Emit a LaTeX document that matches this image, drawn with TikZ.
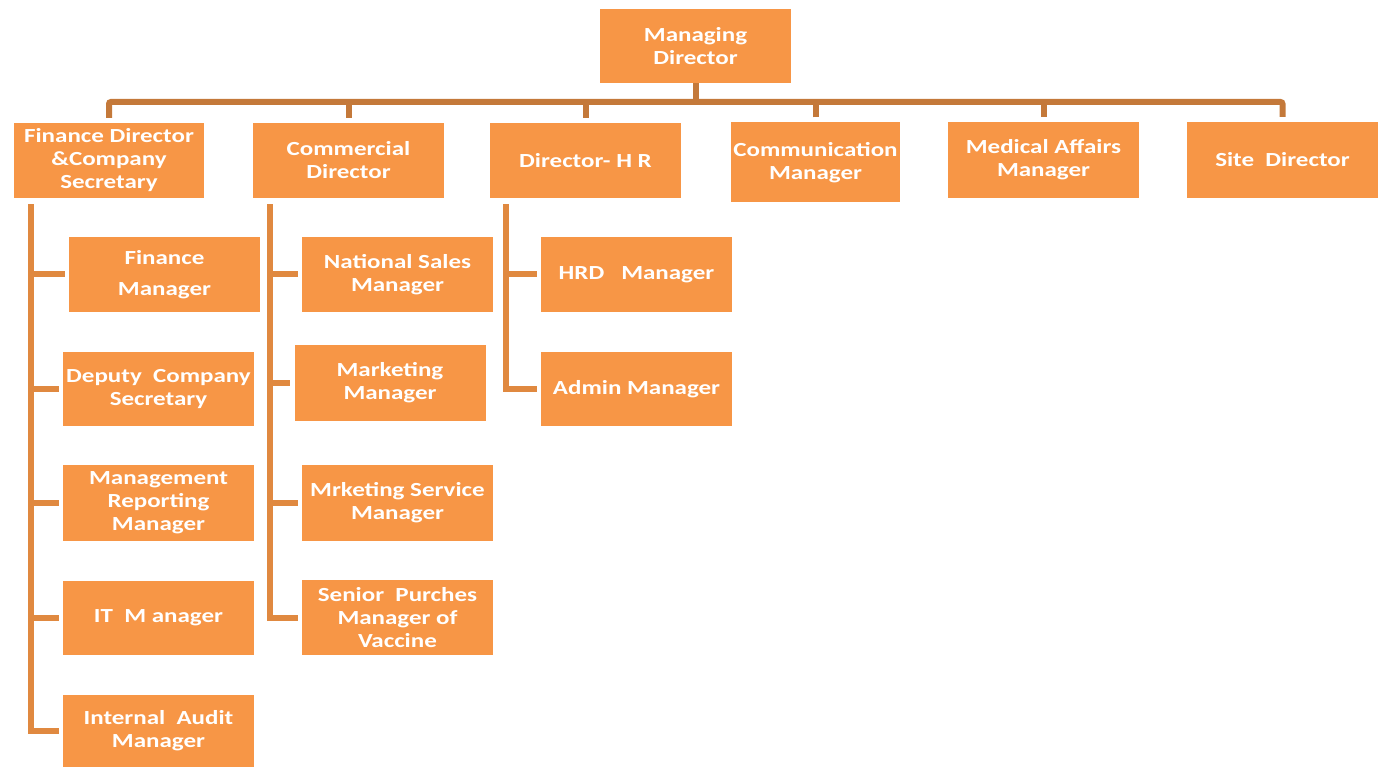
\documentclass[tikz,border=0pt]{standalone}
\usepackage{fontspec}
\setmainfont{Carlito}[FakeStretch=1.25]
\usepackage{tikz}

\definecolor{boxorange}{HTML}{F79646}
\definecolor{barbrown}{RGB}{196,121,58}
\definecolor{linkorange}{RGB}{224,137,64}

\begin{document}
\begin{tikzpicture}[x=1pt,y=-1pt,
    post/.style={rectangle,fill=boxorange,text=white,align=center,inner sep=0pt,
      font=\fontsize{20}{23}\selectfont\bfseries,minimum width=191pt,minimum height=75pt},
    bus/.style={draw=barbrown,line width=6pt},
    branch/.style={draw=linkorange,line width=6pt}]
   \useasboundingbox (0,0) rectangle (1381,767);
   % top
   \node[post,minimum height=74pt] (md) at (695.5,46) {Managing\\Director};
   \coordinate (bar) at (0,102);
   % directors
   \node[post,minimum width=190pt] (fd) at (109,160.5) {Finance Director\\\&Company\\Secretary};
   \node[post] (cd) at (348.5,160.5) {Commercial\\Director};
   \node[post] (hr) at (585.5,160.5) {Director- H R};
   \node[post,minimum width=169pt,minimum height=80pt] (comm) at (815.5,162.5) {Communication\\Manager};
   \node[post,minimum height=76pt] (med) at (1043.5,160) {Medical Affairs\\Manager};
   \node[post,minimum height=76pt] (site) at (1282.5,160) {Site\ \ Director};
   % finance
   \node[post] (fm) at (164.5,274.5) {Finance\\[8pt]Manager};
   \node[post,minimum height=74pt] (dcs) at (158.5,389) {Deputy\ \ Company\\Secretary};
   \node[post,minimum height=76pt] (mrm) at (158.5,503) {Management\\Reporting\\Manager};
   \node[post,minimum height=74pt] (itm) at (158.5,618) {IT\ \ M anager};
   \node[post,minimum height=72pt] (iam) at (158.5,731) {Internal\ \ Audit\\Manager};
   % commercial
   \node[post] (nsm) at (397.5,274.5) {National Sales\\Manager};
   \node[post,minimum height=76pt] (mkt) at (390,383) {Marketing\\Manager};
   \node[post,minimum height=76pt] (msm) at (397.5,503) {Mrketing Service\\Manager};
   \node[post] (spm) at (397.5,617.5) {Senior\ \ Purches\\Manager of\\Vaccine};
   % hr
   \node[post] (hrd) at (636.5,274.5) {HRD\ \ \ Manager};
   \node[post,minimum height=74pt] (adm) at (636.5,389) {Admin Manager};

   \draw[bus] (md.south) -- (md.south |- bar);
   \draw[bus,rounded corners=2pt,shorten <=5pt,shorten >=5pt] (fd.north) -- (fd.north |- bar) -| (site.north);
   \foreach \n in {cd,hr,comm,med}
      \draw[bus,shorten <=5pt] (\n.north) -- (\n.north |- bar);

   \foreach \n in {fm,dcs,mrm,itm,iam}
      \draw[branch,shorten <=6pt,shorten >=4pt] ([xshift=17pt]fd.south west) |- (\n.west);
   \foreach \n in {nsm,mkt,msm,spm}
      \draw[branch,shorten <=6pt,shorten >=4pt] ([xshift=17pt]cd.south west) |- (\n.west);
   \foreach \n in {hrd,adm}
      \draw[branch,shorten <=6pt,shorten >=4pt] ([xshift=16pt]hr.south west) |- (\n.west);
\end{tikzpicture}
\end{document}
